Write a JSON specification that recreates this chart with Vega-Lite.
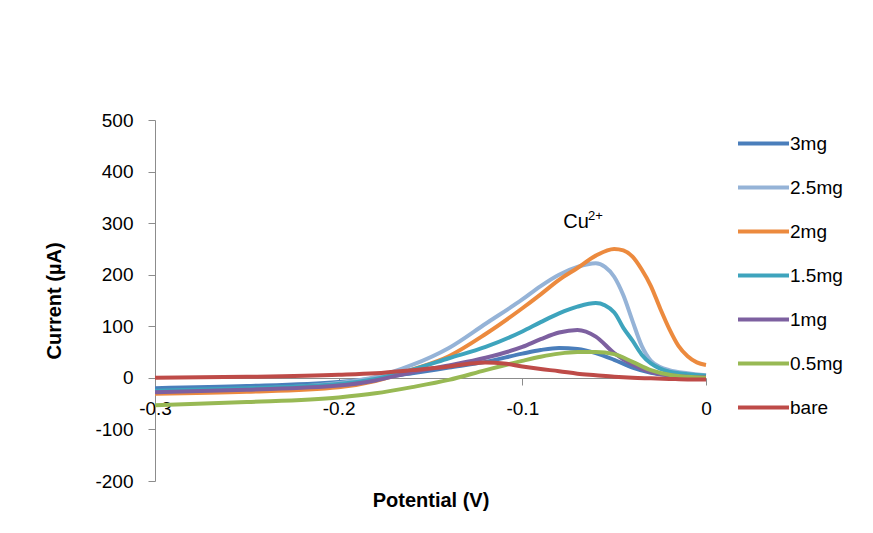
{
  "$schema": "https://vega.github.io/schema/vega-lite/v6.json",
  "width": 551,
  "height": 361,
  "autosize": {"type": "none"},
  "padding": {"left": 155, "top": 120, "right": 167, "bottom": 52},
  "background": "white",
  "config": {"view": {"stroke": null}, "font": "Liberation Sans"},
  "encoding": {
    "x": {
      "field": "x", "type": "quantitative",
      "scale": {"domain": [-0.3, 0], "nice": false, "zero": false},
      "axis": {
        "values": [-0.3, -0.2, -0.1, 0], "offset": -103, "labelExpr": "'' + datum.value",
        "title": "Potential (V)", "grid": false, "domainColor": "#8c8c8c", "tickColor": "#8c8c8c",
        "tickSize": 7, "labelPadding": 14, "titlePadding": 72, "labelFontSize": 19, "titleFontSize": 20,
        "titleFontWeight": "bold", "labelColor": "#000", "titleColor": "#000", "labelFlush": false, "labelOverlap": false
      }
    },
    "y": {
      "field": "y", "type": "quantitative",
      "scale": {"domain": [-200, 500], "nice": false, "zero": false},
      "axis": {
        "values": [-200, -100, 0, 100, 200, 300, 400, 500], "labelExpr": "'' + datum.value",
        "title": "Current (µA)", "grid": false, "domainColor": "#8c8c8c", "tickColor": "#8c8c8c",
        "tickSize": 7, "labelPadding": 15, "titlePadding": 30, "labelFontSize": 19, "titleFontSize": 20,
        "titleFontWeight": "bold", "labelColor": "#000", "titleColor": "#000", "labelOverlap": false
      }
    }
  },
  "layer": [
    {
      "data": {"values": [
        {"series":"3mg","x":-0.30,"y":-20},{"series":"3mg","x":-0.25,"y":-16},{"series":"3mg","x":-0.20,"y":-8},{"series":"3mg","x":-0.18,"y":-1},{"series":"3mg","x":-0.16,"y":9},{"series":"3mg","x":-0.14,"y":20},{"series":"3mg","x":-0.12,"y":31},{"series":"3mg","x":-0.10,"y":47},{"series":"3mg","x":-0.09,"y":54},{"series":"3mg","x":-0.08,"y":58},{"series":"3mg","x":-0.07,"y":56},{"series":"3mg","x":-0.06,"y":48},{"series":"3mg","x":-0.05,"y":35},{"series":"3mg","x":-0.04,"y":20},{"series":"3mg","x":-0.03,"y":10},{"series":"3mg","x":-0.02,"y":5},{"series":"3mg","x":-0.01,"y":2},{"series":"3mg","x":0,"y":1},
        {"series":"2.5mg","x":-0.30,"y":-27},{"series":"2.5mg","x":-0.25,"y":-22},{"series":"2.5mg","x":-0.20,"y":-10},{"series":"2.5mg","x":-0.18,"y":2},{"series":"2.5mg","x":-0.16,"y":25},{"series":"2.5mg","x":-0.14,"y":58},{"series":"2.5mg","x":-0.12,"y":105},{"series":"2.5mg","x":-0.10,"y":152},{"series":"2.5mg","x":-0.09,"y":178},{"series":"2.5mg","x":-0.08,"y":200},{"series":"2.5mg","x":-0.07,"y":215},{"series":"2.5mg","x":-0.06,"y":222},{"series":"2.5mg","x":-0.055,"y":215},{"series":"2.5mg","x":-0.05,"y":196},{"series":"2.5mg","x":-0.045,"y":160},{"series":"2.5mg","x":-0.04,"y":110},{"series":"2.5mg","x":-0.035,"y":62},{"series":"2.5mg","x":-0.03,"y":33},{"series":"2.5mg","x":-0.025,"y":21},{"series":"2.5mg","x":-0.02,"y":15},{"series":"2.5mg","x":-0.01,"y":9},{"series":"2.5mg","x":0,"y":5},
        {"series":"2mg","x":-0.30,"y":-31},{"series":"2mg","x":-0.25,"y":-27},{"series":"2mg","x":-0.20,"y":-18},{"series":"2mg","x":-0.18,"y":-6},{"series":"2mg","x":-0.16,"y":16},{"series":"2mg","x":-0.14,"y":42},{"series":"2mg","x":-0.12,"y":85},{"series":"2mg","x":-0.10,"y":135},{"series":"2mg","x":-0.09,"y":162},{"series":"2mg","x":-0.08,"y":190},{"series":"2mg","x":-0.07,"y":213},{"series":"2mg","x":-0.06,"y":237},{"series":"2mg","x":-0.05,"y":250},{"series":"2mg","x":-0.045,"y":247},{"series":"2mg","x":-0.04,"y":235},{"series":"2mg","x":-0.035,"y":210},{"series":"2mg","x":-0.03,"y":178},{"series":"2mg","x":-0.025,"y":135},{"series":"2mg","x":-0.02,"y":95},{"series":"2mg","x":-0.015,"y":62},{"series":"2mg","x":-0.01,"y":42},{"series":"2mg","x":-0.005,"y":30},{"series":"2mg","x":0,"y":25},
        {"series":"1.5mg","x":-0.30,"y":-25},{"series":"1.5mg","x":-0.25,"y":-20},{"series":"1.5mg","x":-0.20,"y":-12},{"series":"1.5mg","x":-0.18,"y":-2},{"series":"1.5mg","x":-0.16,"y":16},{"series":"1.5mg","x":-0.14,"y":38},{"series":"1.5mg","x":-0.12,"y":60},{"series":"1.5mg","x":-0.10,"y":90},{"series":"1.5mg","x":-0.09,"y":108},{"series":"1.5mg","x":-0.08,"y":125},{"series":"1.5mg","x":-0.07,"y":138},{"series":"1.5mg","x":-0.06,"y":145},{"series":"1.5mg","x":-0.05,"y":127},{"series":"1.5mg","x":-0.045,"y":97},{"series":"1.5mg","x":-0.04,"y":72},{"series":"1.5mg","x":-0.035,"y":45},{"series":"1.5mg","x":-0.03,"y":28},{"series":"1.5mg","x":-0.025,"y":18},{"series":"1.5mg","x":-0.02,"y":12},{"series":"1.5mg","x":-0.01,"y":7},{"series":"1.5mg","x":0,"y":4},
        {"series":"1mg","x":-0.30,"y":-28},{"series":"1mg","x":-0.25,"y":-23},{"series":"1mg","x":-0.20,"y":-15},{"series":"1mg","x":-0.18,"y":-5},{"series":"1mg","x":-0.16,"y":11},{"series":"1mg","x":-0.14,"y":24},{"series":"1mg","x":-0.12,"y":39},{"series":"1mg","x":-0.10,"y":60},{"series":"1mg","x":-0.09,"y":75},{"series":"1mg","x":-0.08,"y":88},{"series":"1mg","x":-0.07,"y":93},{"series":"1mg","x":-0.06,"y":80},{"series":"1mg","x":-0.05,"y":48},{"series":"1mg","x":-0.04,"y":26},{"series":"1mg","x":-0.03,"y":11},{"series":"1mg","x":-0.02,"y":5},{"series":"1mg","x":-0.01,"y":2},{"series":"1mg","x":0,"y":1},
        {"series":"0.5mg","x":-0.30,"y":-53},{"series":"0.5mg","x":-0.25,"y":-47},{"series":"0.5mg","x":-0.20,"y":-38},{"series":"0.5mg","x":-0.18,"y":-30},{"series":"0.5mg","x":-0.16,"y":-18},{"series":"0.5mg","x":-0.14,"y":-4},{"series":"0.5mg","x":-0.12,"y":15},{"series":"0.5mg","x":-0.10,"y":33},{"series":"0.5mg","x":-0.09,"y":41},{"series":"0.5mg","x":-0.08,"y":47},{"series":"0.5mg","x":-0.07,"y":50},{"series":"0.5mg","x":-0.06,"y":50},{"series":"0.5mg","x":-0.05,"y":46},{"series":"0.5mg","x":-0.04,"y":31},{"series":"0.5mg","x":-0.03,"y":15},{"series":"0.5mg","x":-0.02,"y":6},{"series":"0.5mg","x":-0.01,"y":2},{"series":"0.5mg","x":0,"y":0},
        {"series":"bare","x":-0.30,"y":0},{"series":"bare","x":-0.25,"y":2},{"series":"bare","x":-0.20,"y":6},{"series":"bare","x":-0.18,"y":9},{"series":"bare","x":-0.16,"y":15},{"series":"bare","x":-0.14,"y":22},{"series":"bare","x":-0.13,"y":27},{"series":"bare","x":-0.12,"y":30},{"series":"bare","x":-0.11,"y":28},{"series":"bare","x":-0.10,"y":22},{"series":"bare","x":-0.09,"y":17},{"series":"bare","x":-0.08,"y":13},{"series":"bare","x":-0.07,"y":8},{"series":"bare","x":-0.06,"y":5},{"series":"bare","x":-0.05,"y":2},{"series":"bare","x":-0.04,"y":0},{"series":"bare","x":-0.03,"y":-1},{"series":"bare","x":-0.02,"y":-2},{"series":"bare","x":-0.01,"y":-3},{"series":"bare","x":0,"y":-3}
      ]},
      "mark": {"type": "line", "strokeWidth": 4, "interpolate": "monotone"},
      "encoding": {
        "color": {
          "field": "series", "type": "nominal",
          "scale": {
            "domain": ["3mg", "2.5mg", "2mg", "1.5mg", "1mg", "0.5mg", "bare"],
            "range": ["#4a7ebb", "#95b3d7", "#ec8a3e", "#3ea4bd", "#7d60a0", "#98b954", "#be4b48"]
          },
          "legend": {
            "title": null, "orient": "none", "legendX": 581, "legendY": -4, "padding": 0,
            "symbolType": "stroke", "symbolSize": 2601, "symbolStrokeWidth": 4,
            "labelFontSize": 19, "labelColor": "#000", "labelOffset": -1, "rowPadding": 6
          }
        }
      }
    },
    {
      "data": {"values": [{"x": -0.0708, "y": 303, "label": "Cu"}]},
      "mark": {"type": "text", "fontSize": 20, "color": "#000", "baseline": "middle", "align": "center"},
      "encoding": {"text": {"field": "label"}}
    },
    {
      "data": {"values": [{"x": -0.0602, "y": 313, "label": "2+"}]},
      "mark": {"type": "text", "fontSize": 13, "color": "#000", "baseline": "middle", "align": "center"},
      "encoding": {"text": {"field": "label"}}
    }
  ]
}
